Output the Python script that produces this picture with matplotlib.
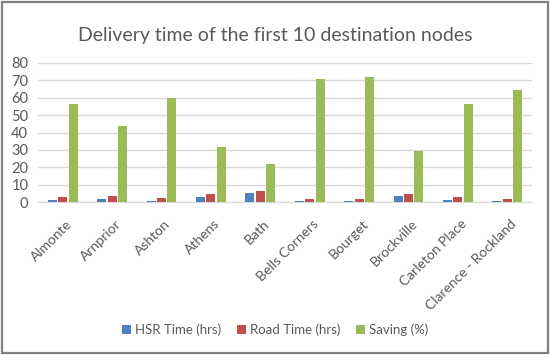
import matplotlib
matplotlib.use("Agg")
import matplotlib.pyplot as plt
import matplotlib.transforms as mtransforms
import numpy as np
from matplotlib.patches import Rectangle

categories = ["Almonte", "Arnprior", "Ashton", "Athens", "Bath", "Bells Corners",
              "Bourget", "Brockville", "Carleton Place", "Clarence - Rockland"]
hsr_time = [1.2, 1.7, 0.8, 3.1, 5.0, 0.5, 0.5, 3.5, 1.2, 0.5]
road_time = [2.6, 3.2, 2.3, 4.4, 6.4, 1.7, 1.7, 4.6, 2.6, 2.0]
saving = [56.3, 43.6, 59.8, 31.9, 21.9, 70.9, 72.2, 29.4, 56.5, 64.4]
series_names = ["HSR Time (hrs)", "Road Time (hrs)", "Saving (%)"]
yticks = [0, 10, 20, 30, 40, 50, 60, 70, 80]

plt.rcParams['font.family'] = ['Lato', 'DejaVu Sans']
txt = '#595959'

fig = plt.figure(figsize=(5.5, 3.55), dpi=100)
fig.patches.append(Rectangle((0.004, 0.006), 0.992, 0.988, transform=fig.transFigure,
                             fill=False, edgecolor='#7f7f7f', linewidth=1.6))
ax = fig.add_axes([38/550, 1-202/355, 494/550, 139/355])

x = np.arange(len(categories))
w = 0.18
step = 0.21
colors = ['#4F81BD', '#C0504D', '#9BBB59']
for i, (vals, c, n) in enumerate(zip([hsr_time, road_time, saving], colors, series_names)):
    ax.bar(x + (i-1)*step, vals, width=w, color=c, label=n, zorder=3)

ax.set_ylim(0, 80)
ax.set_xlim(-0.5, len(categories)-0.5)
ax.set_yticks(yticks)
ax.yaxis.grid(True, color='#d9d9d9', linewidth=1)
ax.set_axisbelow(True)
for s in ['top', 'right', 'left']:
    ax.spines[s].set_visible(False)
ax.spines['bottom'].set_color('#d9d9d9')
ax.tick_params(axis='both', length=0, colors=txt, labelsize=10.5)
ax.tick_params(axis='y', pad=7)
ax.set_xticks(x)
ax.set_xticklabels(categories, rotation=45, ha='right', va='center',
                   rotation_mode='anchor', fontsize=10)
ax.tick_params(axis='x', pad=10)
offset = mtransforms.ScaledTranslation(7/100, -6/100, fig.dpi_scale_trans)
for lbl in ax.get_xticklabels():
    lbl.set_transform(lbl.get_transform() + offset)

fig.text(0.5, 1-35/355, "Delivery time of the first 10 destination nodes",
         ha='center', va='center', fontsize=14, color=txt)
fig.legend(loc='center', bbox_to_anchor=(0.5, 1-330/355), ncol=3, frameon=False,
           fontsize=9.5, labelcolor=txt, handlelength=0.7, handleheight=0.7,
           handletextpad=0.3, columnspacing=1.2)

fig.savefig("out.png", dpi=100)
